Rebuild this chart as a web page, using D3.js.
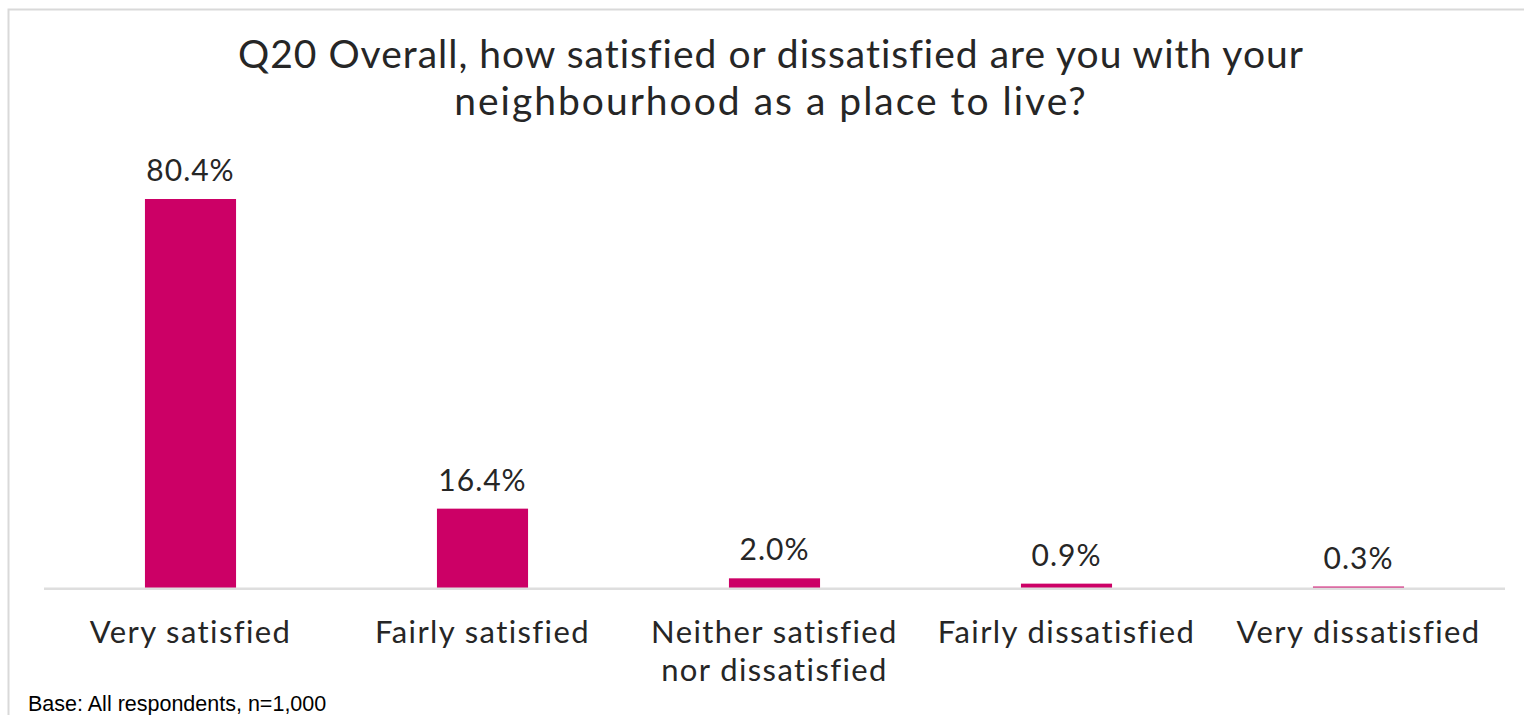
<!DOCTYPE html>
<html><head><meta charset="utf-8">
<script src="https://cdn.jsdelivr.net/npm/d3@7"></script>
<style>body{margin:0;background:#fff}svg{display:block}.g{font-family:"Lato","Open Sans",sans-serif}.f{font-family:"Liberation Sans",Arial,sans-serif}</style>
</head><body><svg id="c" width="1524" height="715"></svg>
<script>
const categories = ["Very satisfied","Fairly satisfied","Neither satisfied|nor dissatisfied","Fairly dissatisfied","Very dissatisfied"];
const values = [80.4, 16.4, 2.0, 0.9, 0.3];
const titleLines = ["Q20 Overall, how satisfied or dissatisfied  are you with your","neighbourhood as a place to live?"];
const footnote = "Base: All respondents, n=1,000";

const svg = d3.select("#c");
svg.append("rect").attr("x",8.5).attr("y",9.5).attr("width",1530).attr("height",720)
  .attr("fill","#fff").attr("stroke","#d9d9d9").attr("stroke-width",2);

const x = d3.scaleBand().domain(categories).range([44.5,1504.5]).paddingInner(0.688).paddingOuter(0.344);
const y = d3.scaleLinear().domain([0,80.4]).range([588,199]);

svg.append("g").attr("class","g").selectAll("text").data(titleLines).join("text")
  .attr("x",771).attr("y",(d,i)=>68+i*47).attr("text-anchor","middle")
  .attr("font-size",39).attr("letter-spacing",(d,i)=>i?2:1).attr("fill","#262626").text(d=>d);

svg.append("g").selectAll("rect").data(values).join("rect")
  .attr("x",(d,i)=>x(categories[i])).attr("width",x.bandwidth())
  .attr("y",d=>y(d)).attr("height",d=>y(0)-y(d)).attr("fill","#CC0066");

svg.append("line").attr("x1",44).attr("x2",1505).attr("y1",588.8).attr("y2",588.8)
  .attr("stroke","#dedede").attr("stroke-width",2.6);

svg.append("g").attr("class","g").selectAll("text").data(values).join("text")
  .attr("x",(d,i)=>x(categories[i])+x.bandwidth()/2).attr("y",d=>y(d)-18)
  .attr("text-anchor","middle").attr("font-size",30).attr("letter-spacing",1).attr("fill","#262626")
  .text(d=>d.toFixed(1)+"%");

const lab = svg.append("g").attr("class","g").selectAll("text").data(categories).join("text")
  .attr("x",d=>x(d)+x.bandwidth()/2).attr("y",643).attr("text-anchor","middle")
  .attr("font-size",31).attr("letter-spacing",1.4).attr("fill","#262626");
lab.selectAll("tspan").data(d=>d.split("|").map(t=>({t,c:d}))).join("tspan")
  .attr("x",d=>x(d.c)+x.bandwidth()/2).attr("dy",(d,i)=>i?38:0).text(d=>d.t);

svg.append("text").attr("class","f").attr("x",28).attr("y",711)
  .attr("font-size",21.5).attr("fill","#000").text(footnote);
</script></body></html>
